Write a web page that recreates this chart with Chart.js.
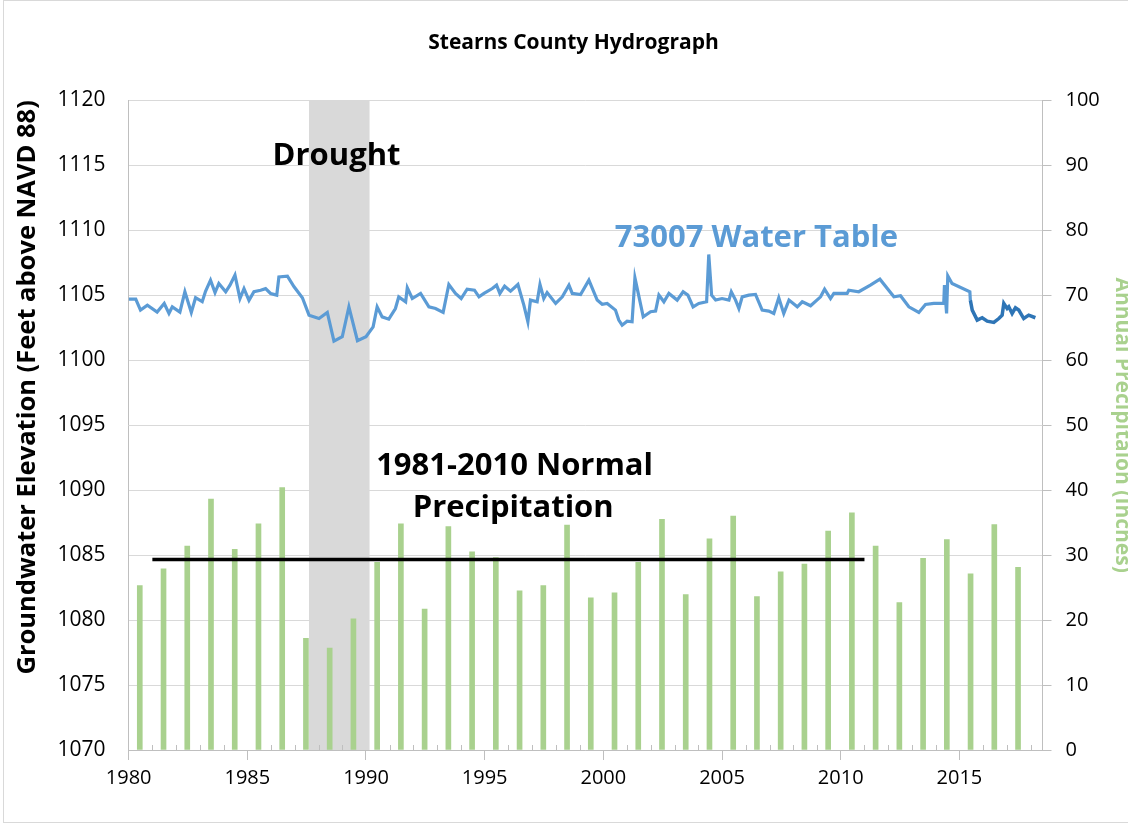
<!DOCTYPE html>
<html lang="en">
<head>
<meta charset="UTF-8">
<title>Stearns County Hydrograph</title>
<script src="https://cdn.jsdelivr.net/npm/chart.js"></script>
<style>
  html, body { margin: 0; padding: 0; background: #fff; overflow: hidden; }
  #wrap { width: 1128px; height: 823px; overflow: hidden; }
</style>
</head>
<body>
<div id="wrap"><canvas id="hydro" width="1135" height="823"></canvas></div>
<script>
// annual precipitation (inches), one bar per year
const precipYears = [1980,1981,1982,1983,1984,1985,1986,1987,1988,1989,
  1990,1991,1992,1993,1994,1995,1996,1997,1998,1999,
  2000,2001,2002,2003,2004,2005,2006,2007,2008,2009,
  2010,2011,2012,2013,2014,2015,2016,2017];
const precipInches = [25.3,27.9,31.4,38.6,30.9,34.8,40.4,17.2,15.7,20.2,
  28.9,34.8,21.7,34.4,30.5,29.6,24.5,25.3,34.6,23.4,
  24.2,28.9,35.5,23.9,32.5,36.0,23.6,27.4,28.6,33.7,
  36.5,31.4,22.7,29.5,32.4,27.1,34.7,28.1];

// well 73007 water table (ft above NAVD 88)
const wtYears = [1980.0,1980.3,1980.5,1980.79,1981.2,1981.5,1981.7,1981.84,1982.16,1982.37,
  1982.64,1982.82,1983.1,1983.24,1983.45,1983.64,1983.8,1984.09,1984.27,1984.48,
  1984.69,1984.86,1985.07,1985.28,1985.56,1985.77,1985.98,1986.24,1986.33,1986.69,
  1986.97,1987.32,1987.6,1988.02,1988.37,1988.65,1989.0,1989.28,1989.64,1990.0,
  1990.3,1990.47,1990.68,1990.96,1991.24,1991.38,1991.67,1991.74,1991.95,1992.3,
  1992.65,1992.93,1993.25,1993.49,1993.77,1994.01,1994.26,1994.57,1994.76,1994.97,
  1995.32,1995.5,1995.64,1995.84,1996.09,1996.4,1996.65,1996.82,1996.93,1997.21,
  1997.33,1997.49,1997.63,1997.99,1998.27,1998.55,1998.69,1999.04,1999.39,1999.74,
  1999.95,2000.16,2000.51,2000.65,2000.79,2001.0,2001.21,2001.33,2001.47,2001.68,
  2001.99,2002.2,2002.34,2002.55,2002.76,2003.11,2003.36,2003.56,2003.78,2004.02,
  2004.35,2004.44,2004.56,2004.73,2005.0,2005.29,2005.39,2005.57,2005.71,2005.85,
  2006.13,2006.41,2006.69,2006.97,2007.18,2007.39,2007.6,2007.82,2008.17,2008.38,
  2008.73,2009.15,2009.32,2009.57,2009.71,2010.27,2010.34,2010.76,2011.25,2011.65,
  2012.24,2012.52,2012.87,2013.29,2013.57,2013.92,2014.34,2014.37,2014.46,2014.51,
  2014.69,2015.44,2015.46];
const wtLevels = [1104.7,1104.7,1103.85,1104.23,1103.7,1104.36,1103.6,1104.1,1103.7,1105.26,
  1103.67,1104.8,1104.5,1105.3,1106.15,1105.2,1105.9,1105.26,1105.77,1106.54,
  1104.74,1105.5,1104.6,1105.26,1105.38,1105.5,1105.13,1105.0,1106.4,1106.46,
  1105.64,1104.8,1103.46,1103.2,1103.67,1101.46,1101.8,1104.1,1101.5,1101.8,
  1102.56,1104.1,1103.33,1103.15,1103.97,1104.87,1104.49,1105.56,1104.74,1105.13,
  1104.1,1103.97,1103.67,1105.82,1105.13,1104.74,1105.46,1105.38,1104.87,1105.13,
  1105.51,1105.77,1105.13,1105.69,1105.31,1105.82,1104.23,1102.95,1104.62,1104.49,
  1105.82,1104.74,1105.2,1104.36,1104.87,1105.77,1105.13,1105.05,1106.15,1104.62,
  1104.3,1104.36,1103.85,1103.08,1102.69,1103.0,1102.95,1106.33,1105.13,1103.33,
  1103.72,1103.77,1105.0,1104.49,1105.13,1104.62,1105.26,1105.0,1104.1,1104.36,
  1104.49,1108.13,1105.0,1104.62,1104.74,1104.62,1105.26,1104.62,1103.97,1104.87,
  1105.0,1105.05,1103.85,1103.77,1103.59,1104.8,1103.59,1104.62,1104.1,1104.49,
  1104.18,1104.87,1105.46,1104.74,1105.13,1105.13,1105.38,1105.26,1105.77,1106.23,
  1104.87,1104.95,1104.1,1103.67,1104.28,1104.36,1104.36,1105.77,1103.59,1106.49,
  1105.9,1105.26,1104.62];

// recent record (darker segment)
const recentYears = [2015.46,2015.54,2015.75,2015.96,2016.17,2016.45,2016.66,2016.8,2016.87,2017.01,
  2017.08,2017.22,2017.36,2017.5,2017.71,2017.92,2018.2];
const recentLevels = [1104.62,1103.85,1103.08,1103.26,1103.0,1102.9,1103.2,1103.46,1104.36,1103.97,
  1104.1,1103.59,1104.03,1103.85,1103.2,1103.46,1103.26];

// 1981-2010 normal precipitation
const normalYears = [1981, 2011];
const normalPrecip = 29.3;

// drought period
const droughtStart = 1987.6;
const droughtEnd = 1990.15;

// ticks
const xTicks = [1980,1985,1990,1995,2000,2005,2010,2015];
const leftTicks = [1070,1075,1080,1085,1090,1095,1100,1105,1110,1115,1120];
const rightTicks = [0,10,20,30,40,50,60,70,80,90,100];

const GREEN = '#a9d18e';
const BLUE = '#5b9bd5';
const DARKBLUE = '#2e75b6';
const GRID = '#d9d9d9';
const AXIS = '#bfbfbf';

const droughtShade = {
  id: 'droughtShade',
  beforeDatasetsDraw(chart) {
    const {ctx, chartArea, scales: {x}} = chart;
    const x0 = x.getPixelForValue(droughtStart);
    const x1 = x.getPixelForValue(droughtEnd);
    ctx.save();
    ctx.fillStyle = '#d9d9d9';
    ctx.fillRect(x0, chartArea.top, x1 - x0, chartArea.bottom - chartArea.top);
    ctx.restore();
  }
};

const minorTicks = {
  id: 'minorTicks',
  afterDraw(chart) {
    const {ctx, chartArea, scales: {x}} = chart;
    ctx.save();
    ctx.strokeStyle = AXIS;
    ctx.lineWidth = 1;
    for (let yr = Math.ceil(x.min); yr <= x.max; yr++) {
      if (yr % 5 === 0) continue;
      const px = Math.round(x.getPixelForValue(yr)) + 0.5;
      ctx.beginPath();
      ctx.moveTo(px, chartArea.bottom);
      ctx.lineTo(px, chartArea.bottom - 5);
      ctx.stroke();
    }
    // thin frame round the whole chart
    ctx.strokeStyle = GRID;
    ctx.strokeRect(3.5, 0.5, chart.width, chart.height - 1);
    ctx.restore();
  }
};

// text labels placed in data coordinates
const notes = [
  {text: 'Drought', x: 1988.76, y: 1115.7, color: '#000'},
  {text: '73007 Water Table', x: 2006.45, y: 1109.4, color: BLUE},
  {text: '1981-2010 Normal', x: 1996.26, y: 1091.85, color: '#000'},
  {text: 'Precipitation', x: 1996.2, y: 1088.6, color: '#000'}
];
const noteLabels = {
  id: 'noteLabels',
  afterDatasetsDraw(chart) {
    const {ctx, scales: {x, y}} = chart;
    ctx.save();
    ctx.font = 'bold 31px "Open Sans"';
    ctx.textAlign = 'center';
    ctx.textBaseline = 'middle';
    notes.forEach(n => {
      ctx.fillStyle = n.color;
      ctx.fillText(n.text, x.getPixelForValue(n.x), y.getPixelForValue(n.y));
    });
    ctx.restore();
  }
};

const plain = v => String(v);

const ctx = document.getElementById('hydro').getContext('2d');
new Chart(ctx, {
  data: {
    datasets: [
      {
        type: 'line',
        label: '73007 Water Table',
        data: wtYears.map((t, i) => ({x: t, y: wtLevels[i]})),
        borderColor: BLUE,
        borderWidth: 3.2,
        pointRadius: 0,
        tension: 0,
        yAxisID: 'y',
        order: 0
      },
      {
        type: 'line',
        label: 'recent',
        data: recentYears.map((t, i) => ({x: t, y: recentLevels[i]})),
        borderColor: DARKBLUE,
        borderWidth: 3.5,
        pointRadius: 0,
        tension: 0,
        yAxisID: 'y',
        order: 0
      },
      {
        type: 'line',
        label: '1981-2010 Normal Precipitation',
        data: normalYears.map(t => ({x: t, y: normalPrecip})),
        borderColor: '#000',
        borderWidth: 3.5,
        pointRadius: 0,
        yAxisID: 'y2',
        order: 1
      },
      {
        type: 'bar',
        label: 'Annual Precipitation',
        data: precipYears.map((t, i) => ({x: t + 0.47, y: precipInches[i]})),
        backgroundColor: GREEN,
        barThickness: 5,
        yAxisID: 'y2',
        order: 2
      }
    ]
  },
  options: {
    responsive: false,
    animation: false,
    layout: { padding: { left: 12, right: 0, top: 0, bottom: 27 } },
    plugins: {
      legend: { display: false },
      tooltip: { enabled: false },
      title: {
        display: true,
        text: 'Stearns County Hydrograph',
        color: '#000',
        font: { family: '"Open Sans"', size: 21, weight: 'bold' },
        padding: { top: 30, bottom: 45 }
      }
    },
    scales: {
      x: {
        type: 'linear',
        offset: false,
        min: 1980,
        max: 2018.5,
        afterBuildTicks: s => { s.ticks = xTicks.map(v => ({value: v})); },
        ticks: { color: '#000', font: { family: '"Open Sans"', size: 20 }, padding: 6, maxRotation: 0, callback: plain },
        grid: { drawOnChartArea: false, color: AXIS, tickLength: 10, offset: false },
        border: { color: AXIS }
      },
      y: {
        position: 'left',
        min: 1070,
        max: 1120,
        afterBuildTicks: s => { s.ticks = leftTicks.map(v => ({value: v})); },
        ticks: { color: '#000', font: { family: '"Open Sans"', size: 21 }, padding: 23, callback: plain },
        grid: { color: GRID, drawTicks: false },
        border: { color: AXIS },
        title: {
          display: true,
          align: 'end',
          text: 'Groundwater Elevation (Feet above NAVD 88)',
          color: '#000',
          font: { family: '"Open Sans"', size: 25.5, weight: 'bold' },
          padding: { top: 0, bottom: -8 }
        }
      },
      y2: {
        position: 'right',
        min: 0,
        max: 100,
        afterBuildTicks: s => { s.ticks = rightTicks.map(v => ({value: v})); },
        ticks: { color: '#000', font: { family: '"Open Sans"', size: 20 }, padding: 14, callback: plain },
        grid: { drawOnChartArea: false, color: AXIS, tickLength: 9 },
        border: { color: AXIS },
        title: {
          display: true,
          text: 'Annual Precipitaion (Inches)',
          color: GREEN,
          font: { family: '"Open Sans"', size: 21, weight: 'bold' },
          padding: { top: 0, bottom: -4 }
        }
      }
    }
  },
  plugins: [droughtShade, minorTicks, noteLabels]
});
</script>
</body>
</html>
